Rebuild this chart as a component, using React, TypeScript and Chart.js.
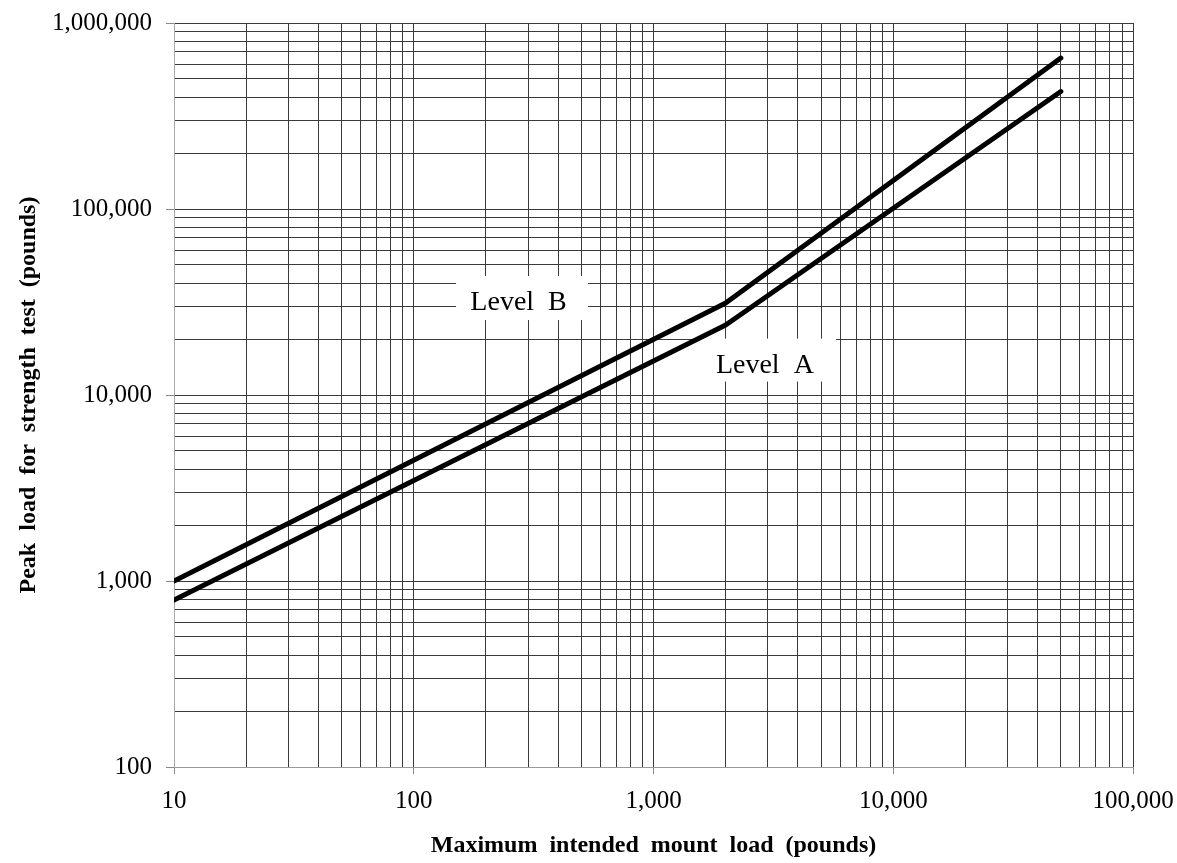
import React, { useEffect, useRef } from 'react';
import { Chart, registerables } from 'chart.js';

Chart.register(...registerables);

// ---- data ----
const mountLoads = [10, 2000, 50000];
const levelA = [790, 23800, 428000];
const levelB = [1000, 31200, 648000];

// ---- axis ticks ----
const xDecades = [10, 100, 1000, 10000];
const xEnd = 100000;
const yDecades = [100, 1000, 10000, 100000];
const yEnd = 1000000;
const minorSteps = [1, 2, 3, 4, 5, 6, 7, 8, 9];
const xMajorTicks = [10, 100, 1000, 10000, 100000];
const yMajorTicks = [100, 1000, 10000, 100000, 1000000];

const levelTexts = ['Level  B', 'Level  A'];

const FONT = "'Liberation Serif', 'Times New Roman', serif";

function buildTicks(decades: number[], end: number) {
  const out: number[] = [];
  decades.forEach((d) => minorSteps.forEach((m) => out.push(d * m)));
  out.push(end);
  return out;
}

const xTicks = buildTicks(xDecades, xEnd);
const yTicks = buildTicks(yDecades, yEnd);

const labelsPlugin = {
  id: 'levelLabels',
  beforeDatasetsDraw(chart: any) {
    const { ctx, scales } = chart;
    const x = scales.x;
    const y = scales.y;
    const anchors = [
      { cx: x.getPixelForValue(283), cy: y.getPixelForValue(33200), w: 132, h: 44, dx: -3.5, dy: 12 },
      { cx: x.getPixelForValue(3000), cy: y.getPixelForValue(15400), w: 136, h: 43, dx: -3, dy: 13 },
    ];
    ctx.save();
    ctx.font = `28px ${FONT}`;
    ctx.textAlign = 'center';
    ctx.textBaseline = 'alphabetic';
    anchors.forEach((a, i) => {
      ctx.fillStyle = '#ffffff';
      ctx.fillRect(a.cx - a.w / 2, a.cy - a.h / 2, a.w, a.h);
      ctx.fillStyle = '#000000';
      ctx.fillText(levelTexts[i], a.cx + a.dx, a.cy + a.dy);
    });
    ctx.restore();
  },
};

export default function App() {
  const canvasRef = useRef<HTMLCanvasElement | null>(null);

  useEffect(() => {
    if (!canvasRef.current) return;
    const gridColor = '#3a3a3a';
    const majorTick = (ctx: any) => (ctx.tick && ctx.tick.major ? '#888888' : 'rgba(0,0,0,0)');
    const chart = new Chart(canvasRef.current, {
      type: 'line',
      data: {
        datasets: [
          {
            label: 'Level B',
            data: mountLoads.map((m, i) => ({ x: m, y: levelB[i] })),
            borderColor: '#000000',
            borderWidth: 5,
            pointRadius: 0,
            tension: 0,
            borderCapStyle: 'round',
            borderJoinStyle: 'round',
          },
          {
            label: 'Level A',
            data: mountLoads.map((m, i) => ({ x: m, y: levelA[i] })),
            borderColor: '#000000',
            borderWidth: 5,
            pointRadius: 0,
            tension: 0,
            borderCapStyle: 'round',
            borderJoinStyle: 'round',
          },
        ],
      },
      options: {
        animation: false,
        responsive: true,
        maintainAspectRatio: false,
        layout: { padding: { top: 23, right: 44, left: 0, bottom: 0 } },
        plugins: {
          legend: { display: false },
          tooltip: { enabled: false },
        },
        scales: {
          x: {
            type: 'logarithmic',
            min: 10,
            max: 100000,
            afterBuildTicks: (scale: any) => {
              scale.ticks = xTicks.map((v) => ({ value: v, major: xMajorTicks.includes(v) }));
            },
            afterFit: (scale: any) => {
              scale.height = 96;
              scale.paddingLeft = 0;
              scale.paddingRight = 0;
            },
            ticks: {
              autoSkip: false,
              maxRotation: 0,
              minRotation: 0,
              padding: 12,
              color: '#000000',
              font: { family: FONT, size: 25 },
              callback: (v: any) => (xMajorTicks.includes(Number(v)) ? Number(v).toLocaleString('en-US') : ''),
            },
            grid: { color: gridColor, tickColor: majorTick, tickLength: 7 },
            border: { color: '#999999' },
            title: {
              display: true,
              text: 'Maximum  intended  mount  load  (pounds)',
              color: '#000000',
              font: { family: FONT, size: 24, weight: 'bold' },
              padding: { top: 0, bottom: 3 },
            },
          },
          y: {
            type: 'logarithmic',
            min: 100,
            max: 1000000,
            afterBuildTicks: (scale: any) => {
              scale.ticks = yTicks.map((v) => ({ value: v, major: yMajorTicks.includes(v) }));
            },
            afterFit: (scale: any) => {
              scale.width = 174;
              scale.paddingTop = 0;
              scale.paddingBottom = 0;
            },
            ticks: {
              autoSkip: false,
              padding: 14,
              color: '#000000',
              font: { family: FONT, size: 25 },
              callback: (v: any) => (yMajorTicks.includes(Number(v)) ? Number(v).toLocaleString('en-US') : ''),
            },
            grid: { color: gridColor, tickColor: majorTick, tickLength: 8 },
            border: { color: '#aaaaaa' },
            title: {
              display: true,
              text: 'Peak  load  for  strength  test  (pounds)',
              color: '#000000',
              font: { family: FONT, size: 24, weight: 'bold' },
              padding: { top: 14, bottom: 0 },
            },
          },
        },
      },
      plugins: [labelsPlugin],
    } as any);
    return () => chart.destroy();
  }, []);

  return (
    <div style={{ position: 'absolute', left: 0, top: 0, width: 1177, height: 863, background: '#ffffff' }}>
      <canvas ref={canvasRef} />
    </div>
  );
}
